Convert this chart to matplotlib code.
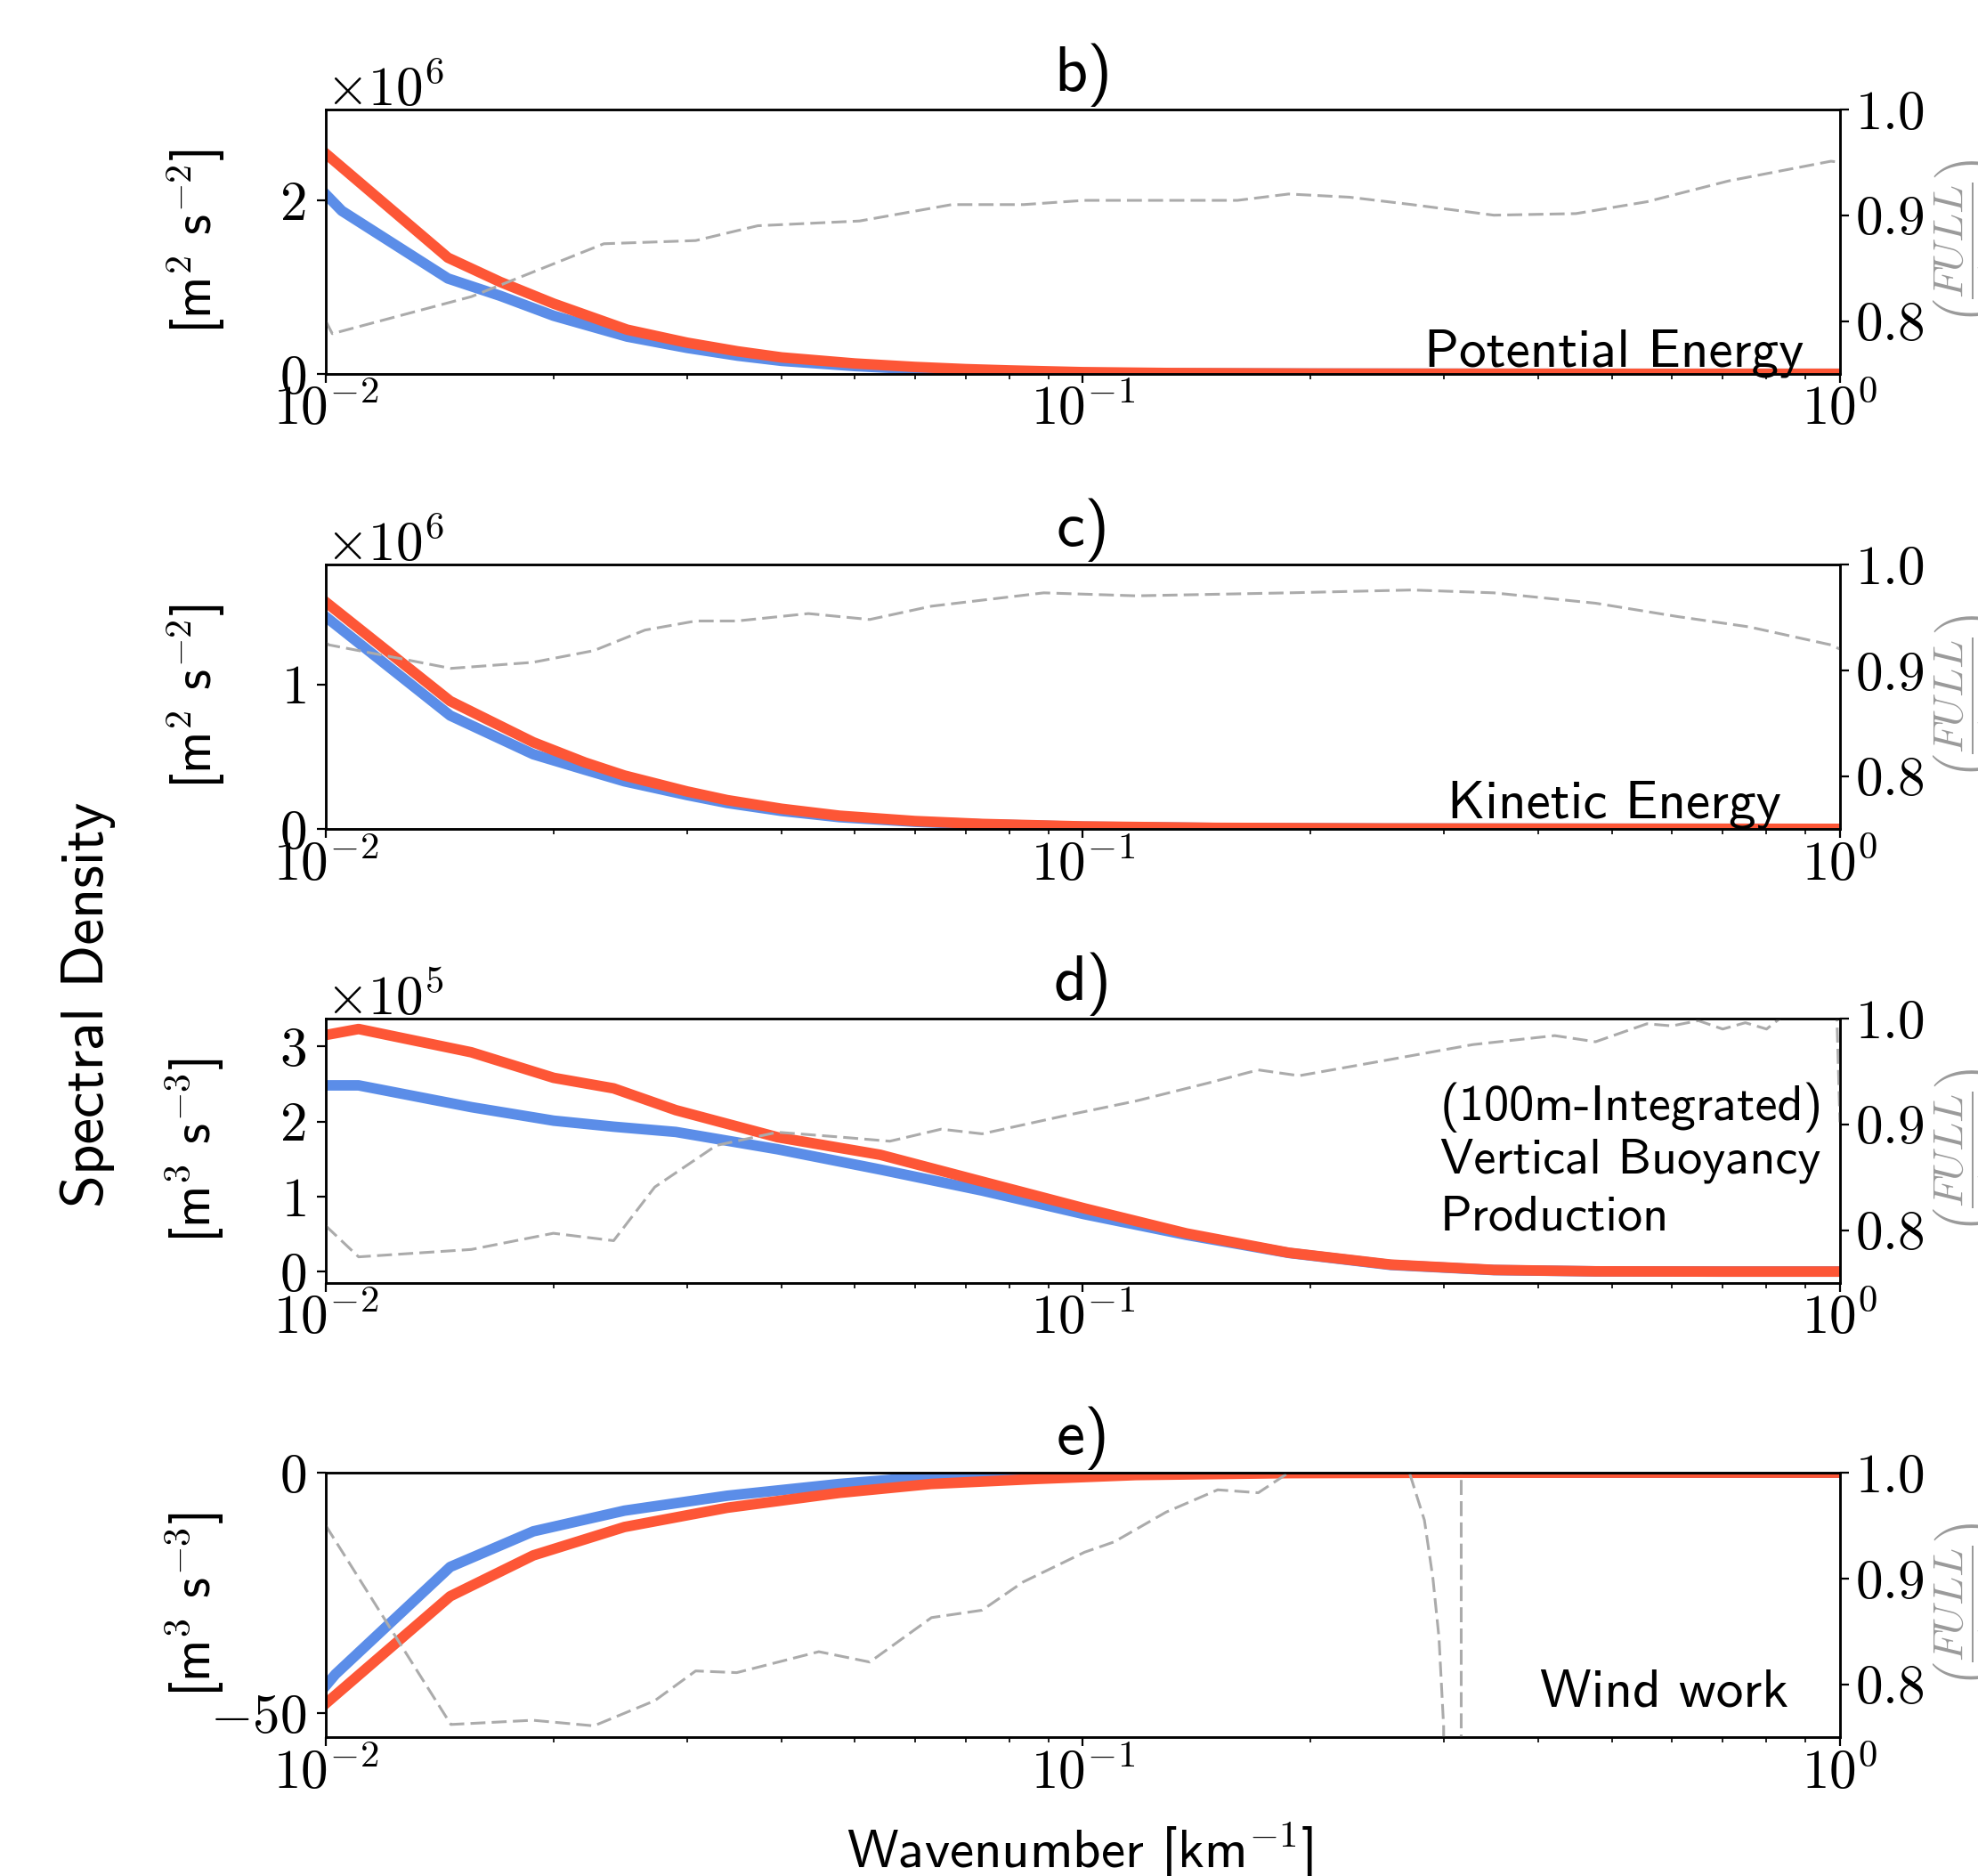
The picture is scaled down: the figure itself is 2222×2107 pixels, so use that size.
import numpy as np
import matplotlib
matplotlib.use("Agg")
import matplotlib.pyplot as plt

plt.rcParams['font.family'] = 'cmr10'
plt.rcParams['mathtext.fontset'] = 'cm'
plt.rcParams['axes.formatter.use_mathtext'] = True
plt.rcParams['axes.formatter.limits'] = [-3, 4]
plt.rcParams['axes.linewidth'] = 1.8
plt.rcParams['xtick.labelsize'] = 44
plt.rcParams['ytick.labelsize'] = 44

SANS = 'cmss10'
RED = '#fd5636'
BLUE = '#5b8de8'
GREY = '#ababab'

# ---- b) potential energy (values in 1e6 m2 s-2)
xb_red = [0.01, 0.0145, 0.017, 0.02, 0.025, 0.03, 0.035, 0.04, 0.05, 0.06, 0.07, 0.08, 0.1, 0.13, 0.2, 0.3, 0.5, 1.0]
pe_red = [2.54, 1.34, 1.06, 0.81, 0.51, 0.36, 0.26, 0.19, 0.12, 0.08, 0.055, 0.04, 0.02, 0.01, 0.004, 0.002, 0.001, 0.001]
xb_blue = [0.01, 0.0105, 0.0145, 0.017, 0.02, 0.025, 0.03, 0.035, 0.04, 0.05, 0.06, 0.07, 0.08, 0.1, 0.13, 0.2, 0.3, 0.5, 1.0]
pe_blue = [2.07, 1.88, 1.10, 0.90, 0.67, 0.43, 0.30, 0.21, 0.15, 0.09, 0.055, 0.035, 0.025, 0.012, 0.006, 0.003, 0.002, 0.001, 0.001]
xb_ratio = [0.01, 0.0102, 0.01557, 0.0233, 0.0308, 0.0372, 0.0507, 0.0671, 0.0835, 0.1005, 0.160, 0.187,
            0.225, 0.272, 0.349, 0.448, 0.556, 0.713, 0.973, 1.0]
pe_ratio = [0.80, 0.788, 0.823, 0.873, 0.876, 0.890, 0.8945, 0.910, 0.910, 0.914, 0.914, 0.920,
            0.917, 0.910, 0.900, 0.9015, 0.9127, 0.9324, 0.951, 0.95]

# ---- c) kinetic energy (values in 1e6 m2 s-2)
xc = [0.01, 0.0146, 0.0188, 0.022, 0.0248, 0.03, 0.0339, 0.04, 0.0477, 0.06, 0.0736, 0.1, 0.15, 0.25, 0.5, 1.0]
ke_red = [1.57, 0.885, 0.60, 0.46, 0.37, 0.26, 0.20, 0.14, 0.092, 0.055, 0.035, 0.018, 0.008, 0.004, 0.002, 0.001]
ke_blue = [1.468, 0.785, 0.517, 0.41, 0.33, 0.235, 0.18, 0.125, 0.082, 0.05, 0.032, 0.016, 0.007, 0.003, 0.002, 0.001]
xc_ratio = [0.01, 0.0101, 0.01215, 0.01463, 0.01877, 0.0226, 0.0264, 0.0308, 0.0349, 0.0434, 0.0523, 0.0631,
            0.0888, 0.1175, 0.187, 0.272, 0.349, 0.4756, 0.610, 0.759, 0.973, 1.0]
ke_ratio = [0.926, 0.924, 0.913, 0.9018, 0.9075, 0.9186, 0.938, 0.9466, 0.9466, 0.9536, 0.948, 0.9606,
            0.9732, 0.9704, 0.9732, 0.9759, 0.9732, 0.9634, 0.9508, 0.941, 0.924, 0.92]

# ---- d) vertical buoyancy production (values in 1e5 m3 s-3)
xd = [0.01, 0.01105, 0.01557, 0.02, 0.024, 0.029, 0.0395, 0.054, 0.0736, 0.1005, 0.137, 0.187, 0.255, 0.349, 0.4756, 0.7, 1.0]
vb_red = [3.15, 3.23, 2.92, 2.58, 2.44, 2.15, 1.79, 1.556, 1.20, 0.843, 0.51, 0.253, 0.095, 0.024, 0.005, 0.002, 0.002]
vb_blue = [2.48, 2.48, 2.19, 2.01, 1.93, 1.86, 1.63, 1.36, 1.08, 0.765, 0.49, 0.25, 0.09, 0.022, 0.005, 0.002, 0.002]
xd_ratio = [0.01, 0.01105, 0.01557, 0.01998, 0.0240, 0.0272, 0.0328, 0.0395, 0.0477, 0.0556, 0.0650, 0.0736,
            0.0945, 0.1175, 0.146, 0.1705, 0.193, 0.255, 0.3273, 0.420, 0.4756, 0.556, 0.6, 0.65, 0.7, 0.75,
            0.8, 0.85, 0.9, 0.99, 1.0]
vb_ratio = [0.804, 0.7747, 0.7817, 0.797, 0.790, 0.8407, 0.880, 0.8925, 0.888, 0.884, 0.8954, 0.891,
            0.908, 0.922, 0.9388, 0.9514, 0.9459, 0.9613, 0.9753, 0.9838, 0.978, 0.995, 0.993, 0.998, 0.99, 0.996,
            0.99, 1.005, 1.01, 1.01, 0.902]

# ---- e) wind work (m3 s-3)
xe_red = [0.01, 0.0146, 0.0188, 0.0248, 0.0339, 0.0477, 0.063, 0.087, 0.1175, 0.187, 0.3, 0.5, 1.0]
ww_red = [-48, -25.7, -17.2, -11.3, -7.3, -4.2, -2.35, -1.3, -0.5, -0.1, -0.02, 0, 0]
xe_blue = [0.01, 0.0103, 0.0146, 0.0188, 0.0248, 0.0339, 0.0477, 0.063, 0.087, 0.12, 0.2, 0.5, 1.0]
ww_blue = [-44.3, -41.9, -19.6, -12.2, -7.9, -4.8, -2.35, -0.8, -0.2, -0.05, 0, 0, 0]
xe_ratio = [0.01, 0.01463, 0.01877, 0.0226, 0.0272, 0.0308, 0.0349, 0.0448, 0.0523, 0.0631, 0.0736, 0.0834,
            0.1005, 0.110, 0.1288, 0.1507, 0.1705, 0.187, 0.21, 0.25, 0.27, 0.2826, 0.290, 0.2954, 0.2996,
            0.3155, 0.3165, 0.33, 0.5, 1.0]
ww_ratio = [0.950, 0.762, 0.766, 0.7607, 0.7845, 0.8126, 0.811, 0.8308, 0.821, 0.863, 0.870, 0.8967,
            0.9248, 0.9346, 0.9627, 0.9838, 0.981, 1.0, 1.02, 1.01, 1.0, 0.955, 0.90, 0.844, 0.76,
            -10.0, 10.0, 1.3, 1.1, 1.05]

fig = plt.figure(figsize=(22.22, 21.07), dpi=100)

L, W, H = 0.1647, 0.7655, 0.141


def panel(bottom, title, xr, yr, xbl, ybl, xg, yg, ylim, yticks, units, texts, tsize=44):
    ax = fig.add_axes([L, bottom, W, H])
    ax.plot(xbl, ybl, color=BLUE, lw=8.5)
    ax.plot(xr, yr, color=RED, lw=8.5)
    ax.set_xscale('log')
    ax.set_xlim(1e-2, 1)
    ax.set_ylim(ylim)
    ax.set_yticks(yticks)
    ax.tick_params(which='major', length=7, width=1.6)
    ax.tick_params(which='minor', length=4, width=1.2)
    ax.tick_params(axis='x', pad=1)
    ax.tick_params(axis='y', pad=9)
    ax.set_ylabel(units, fontfamily=SANS, fontsize=43)
    ax.yaxis.set_label_coords(-0.065, 0.5)
    ax.text(0.5, 1.071, title, transform=ax.transAxes, ha='center', va='baseline',
            family=SANS, size=52)
    for (tx, ty, s, ha) in texts:
        ax.text(tx, ty, s, transform=ax.transAxes, ha=ha, va='baseline', family=SANS, size=tsize)

    tw = ax.twinx()
    tw.plot(xg, yg, color=GREY, lw=2.2, dashes=(5.5, 2.3))
    tw.set_ylim(0.75, 1.0)
    tw.set_yticks([0.8, 0.9, 1.0])
    tw.tick_params(length=7, width=1.6, pad=5)
    fig.text(0.9968, bottom + H / 2, r'$\left(\dfrac{FULL}{CTRL}\right)$', rotation=90,
             ha='center', va='center', color='#9a9a9a', size=34)
    return ax


panel(0.8007, 'b)', xb_red, np.array(pe_red) * 1e6, xb_blue, np.array(pe_blue) * 1e6,
      xb_ratio, pe_ratio, (0, 3.05e6), [0, 2e6], r'[m$^2$ s$^{-2}$]',
      [(0.976, 0.03, 'Potential Energy', 'right')])
panel(0.5581, 'c)', xc, np.array(ke_red) * 1e6, xc, np.array(ke_blue) * 1e6,
      xc_ratio, ke_ratio, (0, 1.83e6), [0, 1e6], r'[m$^2$ s$^{-2}$]',
      [(0.961, 0.044, 'Kinetic Energy', 'right')])
panel(0.3161, 'd)', xd, np.array(vb_red) * 1e5, xd, np.array(vb_blue) * 1e5,
      xd_ratio, vb_ratio, (-0.15e5, 3.37e5), [0, 1e5, 2e5, 3e5], r'[m$^3$ s$^{-3}$]',
      [(0.736, 0.616, '(100m-Integrated)', 'left'),
       (0.736, 0.414, 'Vertical Buoyancy', 'left'),
       (0.736, 0.199, 'Production', 'left')], tsize=40.5)
panel(0.0740, 'e)', xe_red, ww_red, xe_blue, ww_blue,
      xe_ratio, ww_ratio, (-55, 0), [-50, 0], r'[m$^3$ s$^{-3}$]',
      [(0.966, 0.118, 'Wind work', 'right')])

fig.text(0.0446, 0.4646, 'Spectral Density', rotation=90, ha='center', va='center',
         family=SANS, size=48)
fig.text(0.546, 0.0043, r'Wavenumber [km$^{-1}$]', ha='center', va='baseline',
         family=SANS, size=44)

fig.savefig('out.png', dpi=100)
